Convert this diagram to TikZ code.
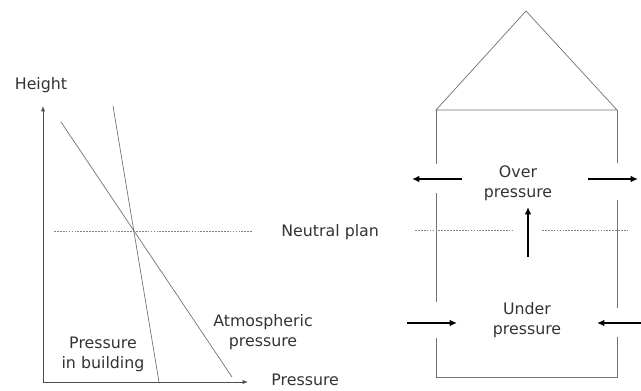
\documentclass[tikz,border=0pt]{standalone}
\usepackage{fontspec}
\setmainfont{DejaVu Sans}
\usetikzlibrary{arrows.meta,positioning}

\begin{document}
\begin{tikzpicture}[x=0.03cm,y=-0.03cm,
	thinline/.style={draw=black!55, line width=0.6pt},
	neutral/.style={draw=black!50, dashed, dash pattern=on 1.5pt off 1pt, line width=0.4pt},
	flow/.style={draw=black, line width=1.5pt, -{Latex[length=2.2mm,width=2mm]}},
	label/.style={font=\fontsize{13.5}{17}\selectfont, text=black!80, inner sep=1pt, align=center}]
	\useasboundingbox (0,0) rectangle (641,390);

	% diagram on the left
	\coordinate (origin) at (43,382);
	\coordinate (ytip) at (43,106);
	\coordinate (xtip) at (248,382);
	\draw [thinline, -{Latex[length=1.6mm,width=1.2mm]}, draw=black!70] (origin) -- (ytip);
	\draw [thinline, -{Latex[length=1.6mm,width=1.2mm]}, draw=black!70] (origin) -- (xtip);
	\node[label] (height) at (41,85) {Height};
	\node[label, anchor=west] (pressure) at (270,380) {Pressure};

	\coordinate (atm1) at (61,122);
	\coordinate (atm2) at (232,377);
	\coordinate (bld1) at (113,106);
	\coordinate (bld2) at (159,382);
	\draw [thinline] (atm1) -- (atm2);
	\draw [thinline] (bld1) -- (bld2);

	\coordinate (np1) at (54,231);
	\coordinate (np2) at (252,231);
	\draw [neutral] (np1) -- (np2);
	\node[label, anchor=west] (nplan) at (280,232) {Neutral plan};

	\node[label] (atmlabel) at (263,332) {Atmospheric\\pressure};
	\node[label] (bldlabel) at (103,354) {Pressure\\in building};

	% the building
	\coordinate (apex) at (526,11);
	\coordinate (eavel) at (436,110);
	\coordinate (eaver) at (617,110);
	\coordinate (footl) at (436,377);
	\coordinate (footr) at (617,377);
	\draw [thinline] (eavel) -- (apex) -- (eaver) -- cycle;
	\draw [thinline] (eavel) -- (436,164);
	\draw [thinline] (436,193) -- (436,302);
	\draw [thinline] (436,338) -- (footl) -- (footr) -- (617,337);
	\draw [thinline] (617,308) -- (617,200);
	\draw [thinline] (617,163) -- (eaver);

	\node[label] (over) at (518,183) {Over\\pressure};
	\node[label] (under) at (527,320) {Under\\pressure};

	\draw [neutral] (415,230) -- (513,230);
	\draw [neutral] (542,230) -- (628,230);

	\draw [flow] (462,179) -- (412,179);
	\draw [flow] (588,179) -- (638,179);
	\draw [flow] (407,323) -- (457,323);
	\draw [flow] (641,323) -- (597,323);
	\draw [flow] (528,257) -- (528,207);
\end{tikzpicture}
\end{document}
